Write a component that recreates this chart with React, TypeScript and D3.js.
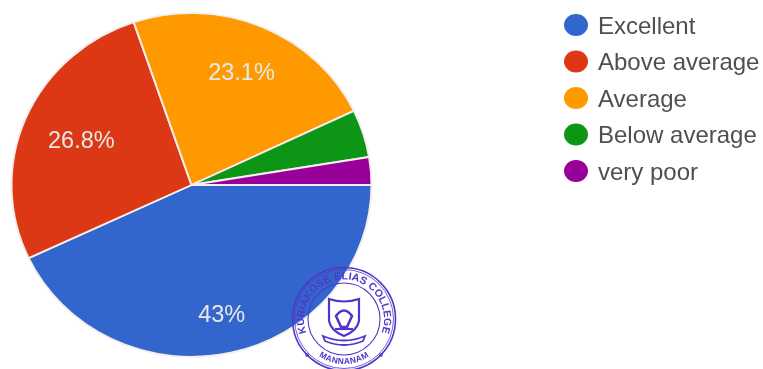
import React from "react";
import * as d3 from "d3";

const categories = ["Excellent", "Above average", "Average", "Below average", "very poor"];
const values = [43, 26.8, 23.1, 4.5, 2.6];
const labels = ["43%", "26.8%", "23.1%", "", ""];
const colors = ["#3366cc", "#dc3912", "#ff9900", "#109618", "#990099"];
const stampTop = "KURIAKOSE ELIAS COLLEGE";
const stampBottom = "MANNANAM";

const labelRadiusShare = [0.77, 0.665, 0.715, 0, 0];
const cx = 191.5, cy = 185, R = 180, squash = 0.955;
const stamp = "#5236c8";

export default function App() {
  React.useEffect(() => {
    document.body.style.margin = "0";
  }, []);
  const pie = d3.pie<number>().sort(null).startAngle(Math.PI / 2).endAngle(Math.PI * 2.5);
  const arcs = pie(values);
  const arc = d3.arc<d3.PieArcDatum<number>>().innerRadius(0).outerRadius(R);
  const legendY = d3.scalePoint<string>().domain(categories).range([25, 171]);
  const sx = 344, sy = 319;
  return (
    <svg width={763} height={369} style={{ position: "absolute", left: 0, top: 0, display: "block" }} fontFamily="'Liberation Sans', Arial, sans-serif">
      <defs>
        <filter id="soft" x="-5%" y="-5%" width="110%" height="110%">
          <feGaussianBlur stdDeviation="0.6" />
        </filter>
        <path id="stTop" d={`M ${sx - 33} ${sy + 23} A 40 40 0 1 1 ${sx + 33} ${sy + 23}`} />
        <path id="stBot" d={`M ${sx - 36} ${sy + 27} A 45 45 0 0 0 ${sx + 36} ${sy + 27}`} />
      </defs>
      <rect width={763} height={369} fill="#ffffff" />
      <g filter="url(#soft)">
        <g transform={`translate(${cx},${cy}) scale(1,${squash})`}>
          {arcs.map((a, i) => (
            <path key={categories[i]} d={arc(a) ?? ""} fill={colors[i]} stroke="#f4eeee" strokeWidth={2} strokeLinejoin="round" />
          ))}
        </g>
        <g transform={`translate(${cx},${cy})`}>
          {arcs.map((a, i) => {
            if (!labels[i]) return null;
            const r = R * labelRadiusShare[i];
            const [x, y] = d3.arc<d3.PieArcDatum<number>>().innerRadius(r).outerRadius(r).centroid(a);
            return (
              <text key={labels[i]} x={x} y={y * squash} fill="#e8e8e8" fontSize={23.5} textAnchor="middle" dominantBaseline="central">
                {labels[i]}
              </text>
            );
          })}
        </g>
        {categories.map((c, i) => (
          <g key={c} transform={`translate(0,${legendY(c)})`}>
            <ellipse cx={576} cy={0} rx={12} ry={11} fill={colors[i]} />
            <text x={598} y={0} fontSize={24} fill="#505050" dominantBaseline="central">{c}</text>
          </g>
        ))}
        <g fill="none" stroke={stamp}>
          <circle cx={sx} cy={sy} r={51.5} strokeWidth={1.6} />
          <circle cx={sx} cy={sy} r={49.5} strokeWidth={0.8} />
          <circle cx={sx} cy={sy} r={36} strokeWidth={1.1} />
          <path d={`M ${sx - 15} ${sy - 20} Q ${sx} ${sy - 15} ${sx + 15} ${sy - 20} L ${sx + 15} ${sy + 2} Q ${sx + 13} ${sy + 12} ${sx} ${sy + 17} Q ${sx - 13} ${sy + 12} ${sx - 15} ${sy + 2} Z`} strokeWidth={2.2} />
          <path d={`M ${sx - 21} ${sy + 17} Q ${sx} ${sy + 26} ${sx + 21} ${sy + 17} L ${sx + 19} ${sy + 22} Q ${sx} ${sy + 30} ${sx - 19} ${sy + 22} Z`} strokeWidth={1.8} />
          <path d={`M ${sx - 8} ${sy - 3} Q ${sx} ${sy - 14} ${sx + 8} ${sy - 3} L ${sx + 3} ${sy + 8} L ${sx - 3} ${sy + 8} Z`} strokeWidth={2.6} />
          <path d={`M ${sx - 9} ${sy + 10} L ${sx + 9} ${sy + 10}`} strokeWidth={2.2} />
        </g>
        <circle cx={sx - 37} cy={sy + 36} r={1.7} fill={stamp} />
        <circle cx={sx + 37} cy={sy + 36} r={1.7} fill={stamp} />
        <text fontSize={10.5} fill={stamp} fontWeight="bold" letterSpacing={0.1}>
          <textPath href="#stTop" startOffset="50%" textAnchor="middle">{stampTop}</textPath>
        </text>
        <text fontSize={8.5} fill={stamp} fontWeight="bold" letterSpacing={0.3}>
          <textPath href="#stBot" startOffset="50%" textAnchor="middle">{stampBottom}</textPath>
        </text>
      </g>
    </svg>
  );
}
